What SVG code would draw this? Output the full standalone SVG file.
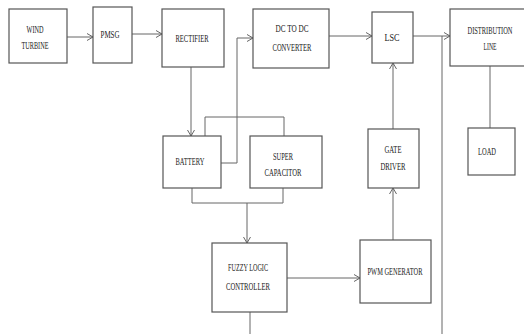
<svg xmlns="http://www.w3.org/2000/svg" width="524" height="334" viewBox="0 0 524 334">
<style>
.box{fill:#fff;stroke:#555;stroke-width:1.2}
.ln{fill:none;stroke:#666;stroke-width:1}
text{font-family:"Liberation Serif",serif;font-size:9.5px;fill:#222;text-anchor:middle}
</style>
<defs>
<marker id="arr" markerWidth="8" markerHeight="8" refX="7" refY="4" orient="auto" markerUnits="userSpaceOnUse">
<path d="M1,0.5 L7,4 L1,7.5" fill="none" stroke="#555" stroke-width="0.9"/>
</marker>
</defs>
<rect width="524" height="334" fill="#fff"/>
<g id="connectors">
<path class="ln" d="M67,37 H93" marker-end="url(#arr)"/>
<path class="ln" d="M132,34 H162" marker-end="url(#arr)"/>
<path class="ln" d="M221,163 H237 V38 H253" marker-end="url(#arr)"/>
<path class="ln" d="M329,36 H372" marker-end="url(#arr)"/>
<path class="ln" d="M413,36 H450" marker-end="url(#arr)"/>
<path class="ln" d="M442,36 V334"/>
<path class="ln" d="M191,67 V136" marker-end="url(#arr)"/>
<path class="ln" d="M205,136 V117 H284 V136"/>
<path class="ln" d="M192,188 V203 H283 V188"/>
<path class="ln" d="M247,203 V243" marker-end="url(#arr)"/>
<path class="ln" d="M287,278 H360" marker-end="url(#arr)"/>
<path class="ln" d="M393,240 V188" marker-end="url(#arr)"/>
<path class="ln" d="M393,129 V63" marker-end="url(#arr)"/>
<path class="ln" d="M490,66 V128"/>
<path class="ln" d="M250,312 V334"/>
</g>
<g id="wind-turbine"><rect class="box" x="9" y="9" width="58" height="54"/>
<text x="35" y="33" textLength="17" lengthAdjust="spacingAndGlyphs">WIND</text>
<text x="35" y="49" textLength="27" lengthAdjust="spacingAndGlyphs">TURBINE</text></g>
<g id="pmsg"><rect class="box" x="93" y="7" width="39" height="56"/>
<text x="110" y="38" textLength="19" lengthAdjust="spacingAndGlyphs">PMSG</text></g>
<g id="rectifier"><rect class="box" x="162" y="9" width="62" height="58"/>
<text x="192" y="42" textLength="33" lengthAdjust="spacingAndGlyphs">RECTIFIER</text></g>
<g id="dc-dc"><rect class="box" x="253" y="9" width="76" height="59"/>
<text x="292" y="32" textLength="33" lengthAdjust="spacingAndGlyphs">DC TO DC</text>
<text x="292" y="51" textLength="39" lengthAdjust="spacingAndGlyphs">CONVERTER</text></g>
<g id="lsc"><rect class="box" x="372" y="12" width="41" height="51"/>
<text x="392" y="41" textLength="15" lengthAdjust="spacingAndGlyphs">LSC</text></g>
<g id="distribution"><rect class="box" x="450" y="9" width="78" height="57"/>
<text x="490" y="34" textLength="45" lengthAdjust="spacingAndGlyphs">DISTRIBUTION</text>
<text x="490" y="50" textLength="13" lengthAdjust="spacingAndGlyphs">LINE</text></g>
<g id="battery"><rect class="box" x="163" y="136" width="58" height="52"/>
<text x="190" y="165" textLength="29" lengthAdjust="spacingAndGlyphs">BATTERY</text></g>
<g id="supercap"><rect class="box" x="250" y="136" width="72" height="52"/>
<text x="283" y="160" textLength="20" lengthAdjust="spacingAndGlyphs">SUPER</text>
<text x="283" y="176" textLength="37" lengthAdjust="spacingAndGlyphs">CAPACITOR</text></g>
<g id="gate-driver"><rect class="box" x="368" y="129" width="51" height="59"/>
<text x="393" y="153" textLength="17" lengthAdjust="spacingAndGlyphs">GATE</text>
<text x="393" y="170" textLength="25" lengthAdjust="spacingAndGlyphs">DRIVER</text></g>
<g id="load"><rect class="box" x="468" y="128" width="47" height="47"/>
<text x="487" y="155" textLength="18" lengthAdjust="spacingAndGlyphs">LOAD</text></g>
<g id="flc"><rect class="box" x="212" y="243" width="75" height="69"/>
<text x="248" y="271" textLength="40" lengthAdjust="spacingAndGlyphs">FUZZY LOGIC</text>
<text x="248" y="290" textLength="44" lengthAdjust="spacingAndGlyphs">CONTROLLER</text></g>
<g id="pwm"><rect class="box" x="360" y="240" width="71" height="63"/>
<text x="395" y="275" textLength="55" lengthAdjust="spacingAndGlyphs">PWM GENERATOR</text></g>
</svg>
